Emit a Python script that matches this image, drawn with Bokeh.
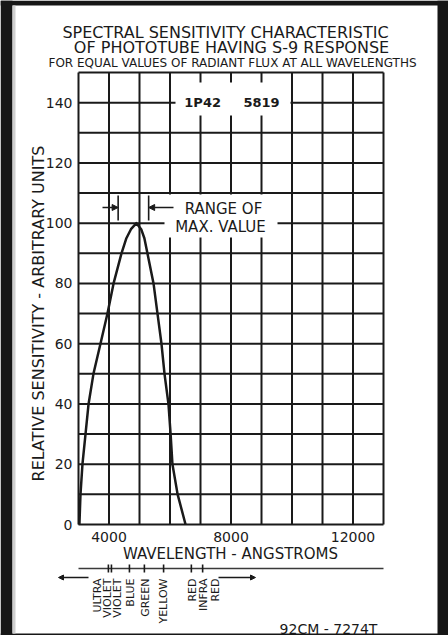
from math import pi

from bokeh.plotting import figure
from bokeh.models import Arrow, NormalHead, ColumnDataSource
from bokeh.core.properties import value
from bokeh.embed import file_html
from bokeh.resources import INLINE

# ---------------- data ----------------
wavelength = [3030, 3065, 3130, 3230, 3330, 3490, 3720, 3950, 4150, 4410, 4570, 4720,
              4900, 5055, 5160, 5260, 5460, 5590, 5720, 5820, 5950, 6020, 6080, 6250, 6510]
sensitivity = [0, 10, 20, 30, 40, 50, 60, 70, 80, 90, 95, 98,
               100, 98, 95, 90, 80, 70, 60, 50, 40, 30, 20, 10, 0]

x_ticks = [4000, 8000, 12000]
x_tick_labels = ["4000", "8000", "12000"]
y_ticks = [0, 20, 40, 60, 80, 100, 120, 140]
y_tick_labels = ["0", "20", "40", "60", "80", "100", "120", "140"]
grid_x = [3000, 4000, 5000, 6000, 7000, 8000, 9000, 10000, 11000, 12000, 13000]
grid_y = [0, 10, 20, 30, 40, 50, 60, 70, 80, 90, 100, 110, 120, 130, 140, 150]

max_range = [4300, 5300]           # range of the wavelength of max. value
tube_types = ["1P42", "5819"]
tube_wavelength = [7070, 9000]

band_ticks = [3980, 4080, 4670, 5160, 5790, 6700, 7070]
band_labels = ["ULTRA", "VIOLET", "VIOLET", "BLUE", "GREEN", "YELLOW", "RED", "INFRA", "RED"]
band_label_wavelength = [3620, 3950, 4280, 4700, 5200, 5790, 6740, 7100, 7490]

title_lines = ["SPECTRAL SENSITIVITY CHARACTERISTIC",
               "OF PHOTOTUBE HAVING S-9 RESPONSE",
               "FOR EQUAL VALUES OF RADIANT FLUX AT ALL WAVELENGTHS"]
x_title = "WAVELENGTH - ANGSTROMS"
y_title = "RELATIVE SENSITIVITY - ARBITRARY UNITS"
drawing_number = "92CM - 7274T"

# ---------------- layout ----------------
W, H = 448, 635
X0, X1, Y0, Y1 = 3000, 13000, 0, 150          # extent of the grid
GL, GR, GT, GB = 78, 383, 72, 524               # grid edges on the page (px)


def xpx(px):
    """page pixel column -> wavelength"""
    return X0 + (px - GL) * (X1 - X0) / (GR - GL)


def ypx(py):
    """page pixel row -> sensitivity"""
    return Y0 + (GB - py) * (Y1 - Y0) / (GB - GT)


INK = "#1a1a1a"
FONT = value("DejaVu Sans")

p = figure(width=W, height=H, x_range=(xpx(0), xpx(W)), y_range=(ypx(H), ypx(0)),
           output_backend="svg", toolbar_location=None,
           x_axis_location=None, y_axis_location=None, min_border=0)
p.title.visible = False
for g in p.grid:
    g.visible = False
p.outline_line_color = None
p.background_fill_color = "white"
p.border_fill_color = "white"

# ---- grid ----
p.segment(x0=grid_x, y0=[Y0] * len(grid_x), x1=grid_x, y1=[Y1] * len(grid_x),
          line_color=INK, line_width=2)
p.segment(x0=[X0] * len(grid_y), y0=grid_y, x1=[X1] * len(grid_y), y1=grid_y,
          line_color=INK, line_width=2)

# white boxes behind the texts inside the grid
p.quad(left=[xpx(175), xpx(164)], right=[xpx(290), xpx(277)],
       bottom=[ypx(115), ypx(237)], top=[ypx(82), ypx(194)],
       fill_color="white", line_color=None)

# ---- tick labels ----
p.text(x=x_ticks, y=[ypx(536)] * len(x_ticks), text=x_tick_labels, text_font=FONT,
       text_font_size=value("14px"), text_color=INK, text_align="center",
       text_baseline="middle")
p.text(x=[xpx(72)] * len(y_ticks), y=y_ticks, text=y_tick_labels, text_font=FONT,
       text_font_size=value("14px"), text_color=INK, text_align="right",
       text_baseline="middle")

# ---- axis titles ----
p.text(x=[xpx(230)], y=[ypx(553)], text=[x_title], text_font=FONT,
       text_font_size=value("15px"), text_color=INK, text_align="center",
       text_baseline="middle")
p.text(x=[xpx(38)], y=[ypx(313)], text=[y_title], angle=pi / 2, text_font=FONT,
       text_font_size=value("16px"), text_color=INK, text_align="center",
       text_baseline="middle")

# ---- chart titles ----
p.text(x=[xpx(225), xpx(231)], y=[ypx(32), ypx(47)], text=title_lines[:2], text_font=FONT,
       text_font_size=value("16px"), text_color=INK, text_align="center",
       text_baseline="middle")
p.text(x=[xpx(232)], y=[ypx(62)], text=title_lines[2:], text_font=FONT,
       text_font_size=value("12px"), text_color=INK, text_align="center",
       text_baseline="middle")

# ---- curve ----
p.line(wavelength, sensitivity, line_color=INK, line_width=2.5, line_join="round")

# ---- range of max. value ----
p.segment(x0=max_range, y0=[ypx(220)] * 2, x1=max_range, y1=[ypx(195)] * 2,
          line_color=INK, line_width=1.6)
head = dict(size=6, fill_color=INK, line_color=INK)
p.add_layout(Arrow(end=NormalHead(**head), x_start=xpx(102), y_start=ypx(207),
                   x_end=max_range[0], y_end=ypx(207), line_color=INK, line_width=1.4))
p.add_layout(Arrow(end=NormalHead(**head), x_start=xpx(173), y_start=ypx(207),
                   x_end=max_range[1], y_end=ypx(207), line_color=INK, line_width=1.4))
p.text(x=[xpx(223), xpx(220)], y=[ypx(208), ypx(226)], text=["RANGE OF", "MAX. VALUE"],
       text_font=FONT, text_font_size=value("15px"), text_color=INK,
       text_align="center", text_baseline="middle")

# ---- tube types ----
p.text(x=tube_wavelength, y=[140] * len(tube_wavelength), text=tube_types, text_font=FONT,
       text_font_size=value("13px"), text_font_style="bold", text_color=INK,
       text_align="center", text_baseline="middle")

# ---- spectrum band under the axis ----
p.segment(x0=[X0], y0=[ypx(568)], x1=[X1], y1=[ypx(568)], line_color="#3a3a3a",
          line_width=1.6)
p.segment(x0=band_ticks, y0=[ypx(564)] * len(band_ticks), x1=band_ticks,
          y1=[ypx(572)] * len(band_ticks), line_color=INK, line_width=1.6)
p.text(x=band_label_wavelength, y=[ypx(578)] * len(band_labels), text=band_labels,
       angle=pi / 2, text_font=FONT, text_font_size=value("11px"), text_color=INK,
       text_align="right", text_baseline="middle")
small = dict(size=5, fill_color=INK, line_color=INK)
p.add_layout(Arrow(end=NormalHead(**small), x_start=xpx(88), y_start=ypx(577),
                   x_end=xpx(58), y_end=ypx(577), line_color=INK, line_width=1.3))
p.add_layout(Arrow(end=NormalHead(**small), x_start=xpx(218), y_start=ypx(577),
                   x_end=xpx(255), y_end=ypx(577), line_color=INK, line_width=1.3))

p.text(x=[xpx(328)], y=[ypx(628)], text=[drawing_number], text_font=FONT,
       text_font_size=value("14px"), text_color=INK, text_align="center",
       text_baseline="middle")

# ---- dark border of the scanned sheet ----
p.quad(left=[xpx(0), xpx(437), xpx(0), xpx(0)], right=[xpx(12), xpx(W), xpx(W), xpx(W)],
       bottom=[ypx(H), ypx(H), ypx(5), ypx(H)], top=[ypx(0), ypx(0), ypx(0), ypx(633)],
       fill_color="#161616", line_color=None)
p.quad(left=[xpx(12)], right=[xpx(15)], bottom=[ypx(633)], top=[ypx(5)],
       fill_color="#cfcfcf", line_color=None)

open("out.html", "w").write(file_html(p, INLINE))
